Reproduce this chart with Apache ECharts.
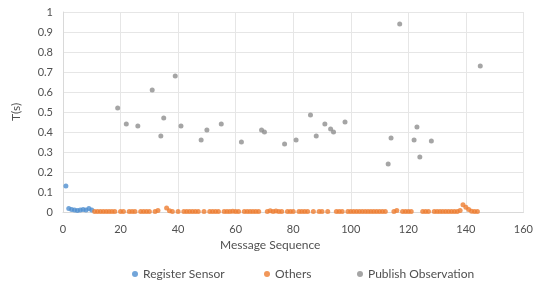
<!DOCTYPE html>
<html>
<head>
<meta charset="utf-8">
<script src="https://cdn.jsdelivr.net/npm/echarts@6/dist/echarts.min.js"></script>
<style>html,body{margin:0;padding:0;background:#fff}#c{width:536px;height:282px}</style>
</head>
<body>
<div id="c"></div>
<script>
const xTicks = [0, 20, 40, 60, 80, 100, 120, 140, 160];
const yTicks = [0, 0.1, 0.2, 0.3, 0.4, 0.5, 0.6, 0.7, 0.8, 0.9, 1];

const registerX = [1, 2, 3, 4, 5, 6, 7, 8, 9, 10];
const registerY = [0.13, 0.018, 0.012, 0.01, 0.008, 0.01, 0.012, 0.01, 0.018, 0.01];

const othersX = [11,12,13,14,15,16,17,18,20,21,23,24,25,27,28,29,30,32,33,36,37,38,40,42,43,44,45,46,47,49,51,52,53,54,56,57,58,59,60,61,63,64,65,66,67,68,71,72,73,74,75,76,78,79,80,82,83,84,85,87,89,90,92,95,96,97,99,100,101,102,103,104,105,106,107,108,109,110,111,112,115,116,118,119,120,121,125,126,127,129,130,131,132,133,134,135,136,137,138,139,140,141,142,143,144];
const othersY = [0.003,0.002,0.002,0.003,0.002,0.002,0.003,0.002,0.002,0.003,0.002,0.003,0.002,0.002,0.003,0.002,0.003,0.003,0.007,0.02,0.006,0.003,0.003,0.002,0.003,0.002,0.002,0.003,0.002,0.003,0.002,0.003,0.002,0.003,0.002,0.003,0.002,0.004,0.003,0.002,0.002,0.003,0.002,0.002,0.003,0.002,0.003,0.006,0.003,0.005,0.002,0.003,0.002,0.003,0.002,0.003,0.002,0.003,0.002,0.003,0.002,0.003,0.002,0.003,0.002,0.002,0.003,0.002,0.003,0.002,0.002,0.003,0.002,0.003,0.002,0.003,0.002,0.003,0.002,0.003,0.003,0.007,0.003,0.002,0.003,0.002,0.003,0.002,0.003,0.002,0.003,0.002,0.003,0.002,0.003,0.002,0.003,0.002,0.008,0.036,0.024,0.012,0.004,0.003,0.002];

const publishX = [19, 22, 26, 31, 34, 35, 39, 41, 48, 50, 55, 62, 69, 70, 77, 81, 86, 88, 91, 93, 94, 98, 113, 114, 117, 122, 123, 124, 128, 145];
const publishY = [0.52, 0.44, 0.43, 0.61, 0.38, 0.47, 0.68, 0.43, 0.36, 0.41, 0.44, 0.35, 0.41, 0.40, 0.34, 0.36, 0.485, 0.38, 0.44, 0.415, 0.40, 0.45, 0.24, 0.37, 0.94, 0.36, 0.425, 0.275, 0.355, 0.73];

const zip = (xs, ys) => xs.map((x, i) => [x, ys[i]]);
const FONT = 'Lato';
const TXT = '#505050';

const chart = echarts.init(document.getElementById('c'), null, {renderer: 'canvas'});
const legendBase = {
  bottom: -3, icon: 'circle', itemWidth: 6, itemHeight: 6,
  textStyle: {fontFamily: FONT, fontSize: 12, color: TXT}
};
chart.setOption({
  animation: false,
  backgroundColor: '#fff',
  grid: {left: 63, right: 8, top: 12, bottom: 70},
  xAxis: {
    type: 'value', min: xTicks[0], max: xTicks[xTicks.length - 1], interval: 20,
    axisLine: {show: true, lineStyle: {color: '#d9d9d9'}},
    axisTick: {show: false},
    axisLabel: {fontFamily: FONT, fontSize: 11, color: TXT, margin: 12},
    splitLine: {show: true, lineStyle: {color: '#e6e6e6'}}
  },
  yAxis: {
    type: 'value', min: yTicks[0], max: yTicks[yTicks.length - 1], interval: 0.1,
    name: 'T(s)', nameLocation: 'middle', nameGap: 41,
    nameTextStyle: {fontFamily: FONT, fontSize: 12, color: TXT},
    axisLine: {show: true, lineStyle: {color: '#d9d9d9'}},
    axisTick: {show: false},
    axisLabel: {fontFamily: FONT, fontSize: 11, color: TXT, margin: 10},
    splitLine: {show: true, lineStyle: {color: '#e6e6e6'}}
  },
  legend: [
    Object.assign({}, legendBase, {left: 127, data: ['Register Sensor']}),
    Object.assign({}, legendBase, {left: 259, data: ['Others']}),
    Object.assign({}, legendBase, {left: 352, data: ['Publish Observation']})
  ],
  graphic: [{
    type: 'text', left: 220, top: 239,
    style: {text: 'Message Sequence', font: '12px ' + FONT, fill: TXT}
  }],
  series: [
    {name: 'Register Sensor', type: 'scatter', symbolSize: 5, itemStyle: {color: '#4f8fd0'}, data: zip(registerX, registerY)},
    {name: 'Others', type: 'scatter', symbolSize: 5, itemStyle: {color: '#ed7d31'}, data: zip(othersX, othersY)},
    {name: 'Publish Observation', type: 'scatter', symbolSize: 5, itemStyle: {color: '#8f8f8f'}, data: zip(publishX, publishY)}
  ]
});
</script>
</body>
</html>
